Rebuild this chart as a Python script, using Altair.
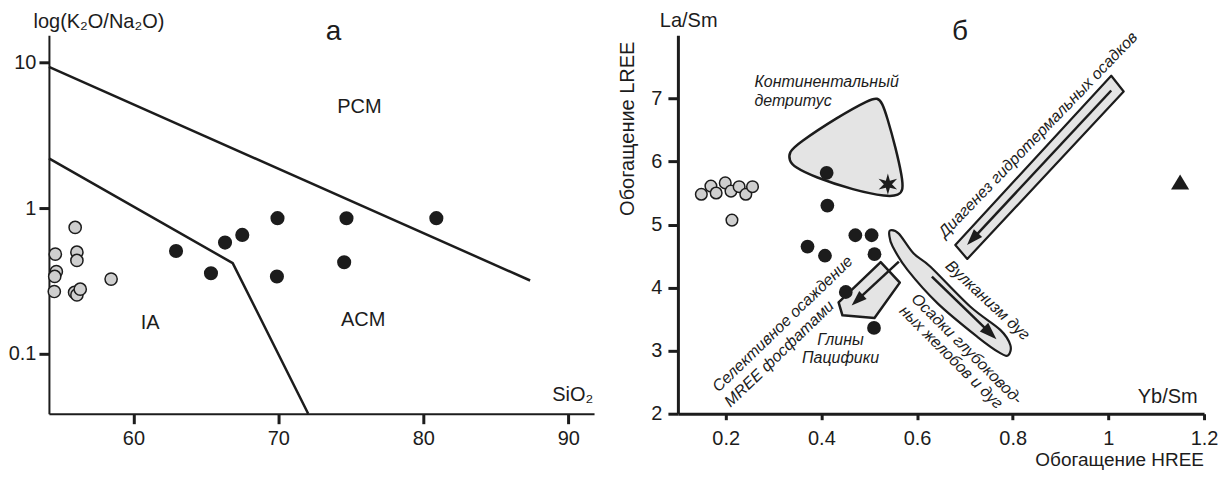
import altair as alt
import pandas as pd

DARK = "#1c1c1c"
GRAY_PT = "#cfcfcf"
GRAY_FILL = "#e4e4e4"
FONT = "Liberation Sans"

# ---------------- panel а : log(K2O/Na2O) vs SiO2 ----------------
a_x_ticks = [60, 70, 80, 90]
a_y_ticks = [0.1, 1, 10]

a_gray_sio2 = [54.61, 56.10, 56.10, 54.68, 54.57, 54.54, 55.94, 56.10, 56.33, 58.46, 55.98]
a_gray_ratio = [0.484, 0.499, 0.438, 0.367, 0.340, 0.268, 0.264, 0.254, 0.278, 0.326, 0.738]

a_black_sio2 = [62.94, 65.35, 66.32, 67.51, 69.94, 69.90, 74.70, 74.54, 80.90]
a_black_ratio = [0.509, 0.358, 0.581, 0.656, 0.855, 0.340, 0.854, 0.426, 0.855]

a_upper_sio2 = [54.17, 87.37]
a_upper_ratio = [9.36, 0.319]
a_lower_sio2 = [54.17, 66.85, 72.06]
a_lower_ratio = [2.20, 0.42, 0.0388]

a_field_names = ["PCM", "IA", "ACM"]
a_field_sio2 = [75.59, 61.15, 75.85]
a_field_ratio = [4.95, 0.163, 0.1695]

# ---------------- panel б : La/Sm vs Yb/Sm ----------------
b_x_ticks = [0.2, 0.4, 0.6, 0.8, 1.0, 1.2]
b_y_ticks = [2, 3, 4, 5, 6, 7]

b_gray_yb = [0.149, 0.169, 0.180, 0.199, 0.211, 0.228, 0.242, 0.256, 0.213]
b_gray_la = [5.48, 5.61, 5.50, 5.66, 5.53, 5.60, 5.48, 5.60, 5.07]

b_black_yb = [0.411, 0.4125, 0.371, 0.4075, 0.471, 0.505, 0.511, 0.451, 0.510]
b_black_la = [5.82, 5.30, 4.65, 4.505, 4.83, 4.83, 4.53, 3.93, 3.36]

b_star_yb = [0.539]
b_star_la = [5.64]
b_tri_yb = [1.15]
b_tri_la = [5.67]

# continental detritus field outline
cont_yb = [0.3325, 0.350, 0.433, 0.503, 0.517, 0.527, 0.5375, 0.555, 0.569,
           0.571, 0.562, 0.5375, 0.468, 0.385, 0.343, 0.3325]
cont_la = [6.149, 6.281, 6.701, 6.992, 7.008, 6.938, 6.701, 6.227, 5.754,
           5.543, 5.464, 5.438, 5.543, 5.754, 5.912, 6.018]

# arc volcanism ellipse outline
ell_yb = [0.5444, 0.5618, 0.593, 0.628, 0.711, 0.774, 0.795, 0.791, 0.774,
          0.726, 0.643, 0.580, 0.549, 0.542]
ell_la = [4.909, 4.856, 4.54, 4.33, 3.70, 3.33, 3.09, 2.93, 2.96,
          3.22, 3.75, 4.28, 4.65, 4.83]

# Pacific clays pentagon
pent_yb = [0.524, 0.564, 0.511, 0.444, 0.436]
pent_la = [4.405, 4.079, 3.517, 3.561, 3.766]

# hydrothermal diagenesis band
hyd_yb = [1.006, 1.032, 0.705, 0.680]
hyd_la = [7.36, 7.11, 4.454, 4.675]

# arrows: start and head positions
arrow_names = ["hydro", "arc", "phos"]
arrow_start_yb = [1.006, 0.631, 0.562]
arrow_start_la = [7.125, 4.174, 4.411]
arrow_head_yb = [0.716, 0.753, 0.475]
arrow_head_la = [4.77, 3.278, 3.80]

# ---------------- scales / axes ----------------
A_XDOM = [54.17, 91.78]
A_YDOM = [0.0388, 15.4]
B_XDOM = [0.1, 1.2]
B_YDOM = [2, 8]

common_axis = dict(grid=False, title=None, domainColor=DARK, tickColor=DARK,
                   labelColor=DARK, labelFont=FONT, labelFontSize=20,
                   labelFlush=False, labelOverlap=False)

axis_a_x = alt.Axis(values=a_x_ticks, format="d", tickSize=10, tickWidth=3,
                    domainWidth=2, labelPadding=5, **common_axis)
axis_a_y = alt.Axis(values=a_y_ticks, format="~g", tickSize=10, tickWidth=3,
                    domainWidth=2, labelPadding=3, **common_axis)
axis_b_x = alt.Axis(values=b_x_ticks, format="~g", tickSize=6, tickWidth=3,
                    domainWidth=3, labelPadding=9, **common_axis)
axis_b_y = alt.Axis(values=b_y_ticks, format="~g", tickSize=10, tickWidth=3,
                    domainWidth=3, labelPadding=6, **common_axis)


def enc_a():
    return dict(
        x=alt.X("x:Q", scale=alt.Scale(domain=A_XDOM, nice=False, zero=False), axis=axis_a_x),
        y=alt.Y("y:Q", scale=alt.Scale(type="log", domain=A_YDOM, nice=False), axis=axis_a_y),
    )


def enc_b():
    return dict(
        x=alt.X("x:Q", scale=alt.Scale(domain=B_XDOM, nice=False, zero=False), axis=axis_b_x),
        y=alt.Y("y:Q", scale=alt.Scale(domain=B_YDOM, nice=False, zero=False), axis=axis_b_y),
    )


def pts(enc, xs, ys, size, fill, stroke=None, sw=0, shape="circle"):
    df = pd.DataFrame({"x": xs, "y": ys})
    mk = dict(shape=shape, size=size, filled=True, fill=fill, opacity=1)
    if stroke:
        mk.update(stroke=stroke, strokeWidth=sw)
    return alt.Chart(df).mark_point(**mk).encode(**enc())


def path(enc, xs, ys, interp="linear", fill=None, sw=2.5):
    df = pd.DataFrame({"x": xs, "y": ys, "i": list(range(len(xs)))})
    mk = dict(interpolate=interp, stroke=DARK, strokeWidth=sw, strokeJoin="round")
    if fill:
        mk["fill"] = fill
    return alt.Chart(df).mark_line(**mk).encode(**enc(), order=alt.Order("i:Q"))


def txt(enc, x, y, t, size, angle=0, italic=False, align="center"):
    df = pd.DataFrame({"x": [x], "y": [y], "t": [t]})
    mk = dict(align=align, baseline="middle", fontSize=size, font=FONT, color=DARK, angle=angle)
    if italic:
        mk["fontStyle"] = "italic"
    return alt.Chart(df).mark_text(**mk).encode(**enc(), text="t:N")


HEAD = "M0,-1 L0.7,1 L-0.7,1 Z"
STAR = ("M0,-1 L0.19,-0.33 L0.866,-0.5 L0.38,0 L0.866,0.5 L0.19,0.33 L0,1 "
        "L-0.19,0.33 L-0.866,0.5 L-0.38,0 L-0.866,-0.5 L-0.19,-0.33 Z")
TRI = "M0,-0.85 L1,0.8 L-1,0.8 Z"

# ---------------- panel а layers ----------------
layers_a = [
    path(enc_a, a_upper_sio2, a_upper_ratio, sw=2.5),
    path(enc_a, a_lower_sio2, a_lower_ratio, sw=2.5),
    pts(enc_a, a_gray_sio2, a_gray_ratio, 150, GRAY_PT, DARK, 1.5),
    pts(enc_a, a_black_sio2, a_black_ratio, 200, DARK),
]
for name, sx, sy in zip(a_field_names, a_field_sio2, a_field_ratio):
    layers_a.append(txt(enc_a, sx, sy, name, 20))
layers_a += [
    txt(enc_a, 73.8, 16.2, "а", 28),
    txt(enc_a, 90.31, 0.0524, "SiO₂", 20),
    txt(enc_a, 57.62, 18.97, "log(K₂O/Na₂O)", 20),
]

# ---------------- panel б layers ----------------
layers_b = [
    path(enc_b, cont_yb, cont_la, interp="basis-closed", fill=GRAY_FILL, sw=2.5),
    path(enc_b, ell_yb, ell_la, interp="cardinal-closed", fill=GRAY_FILL, sw=2.2),
    path(enc_b, pent_yb, pent_la, interp="linear-closed", fill=GRAY_FILL, sw=2.5),
    path(enc_b, hyd_yb, hyd_la, interp="linear-closed", fill=GRAY_FILL, sw=2.2),
]
head_angles = {"hydro": 223, "arc": 134, "phos": 227}
head_sizes = {"hydro": 260, "arc": 300, "phos": 240}
for name, x0, y0, x1, y1 in zip(arrow_names, arrow_start_yb, arrow_start_la,
                                arrow_head_yb, arrow_head_la):
    layers_b.append(path(enc_b, [x0, x1], [y0, y1], sw=2.5))
    df = pd.DataFrame({"x": [x1], "y": [y1]})
    layers_b.append(alt.Chart(df).mark_point(shape=HEAD, size=head_sizes[name],
                                             angle=head_angles[name], filled=True,
                                             fill=DARK, opacity=1).encode(**enc_b()))
layers_b += [
    pts(enc_b, b_gray_yb, b_gray_la, 135, GRAY_PT, DARK, 1.5),
    pts(enc_b, b_black_yb, b_black_la, 190, DARK),
    pts(enc_b, b_star_yb, b_star_la, 460, DARK, shape=STAR),
    pts(enc_b, b_tri_yb, b_tri_la, 330, DARK, shape=TRI),
    txt(enc_b, 0.690, 8.055, "б", 28),
    txt(enc_b, 0.1225, 8.22, "La/Sm", 20),
    txt(enc_b, -0.005, 6.518, "Обогащение LREE", 20, angle=270),
    txt(enc_b, 1.124, 2.265, "Yb/Sm", 20),
    txt(enc_b, 1.0236, 1.262, "Обогащение HREE", 19),
    txt(enc_b, 0.26, 7.254, "Континентальный", 16, italic=True, align="left"),
    txt(enc_b, 0.26, 6.965, "детритус", 16, italic=True, align="left"),
    txt(enc_b, 0.44, 3.175, "Глины", 16, italic=True),
    txt(enc_b, 0.44, 2.885, "Пацифики", 16, italic=True),
    txt(enc_b, 0.319, 3.423, "Селективное осаждение", 16, angle=316, italic=True),
    txt(enc_b, 0.312, 2.949, "MREE фосфатами", 16, angle=316, italic=True),
    txt(enc_b, 0.853, 6.425, "Диагенез гидротермальных осадков", 16, angle=314, italic=True),
    txt(enc_b, 0.7475, 3.798, "Вулканизм дуг", 16, angle=43, italic=True),
    txt(enc_b, 0.704, 3.028, "Осадки глубоковод-", 16, angle=45, italic=True),
    txt(enc_b, 0.671, 2.897, "ных желобов и дуг", 16, angle=45, italic=True),
]

panel_a = alt.layer(*layers_a).properties(width=546, height=379)
panel_b = alt.layer(*layers_b).properties(width=527, height=379)

chart = (
    alt.hconcat(panel_a, panel_b, spacing=84, bounds="flush")
    .properties(padding={"left": 0, "top": 3, "right": 5, "bottom": 3}, background="white")
    .configure_view(stroke=None)
)

chart.save("out.html", embed_options={"renderer": "svg", "actions": False})
